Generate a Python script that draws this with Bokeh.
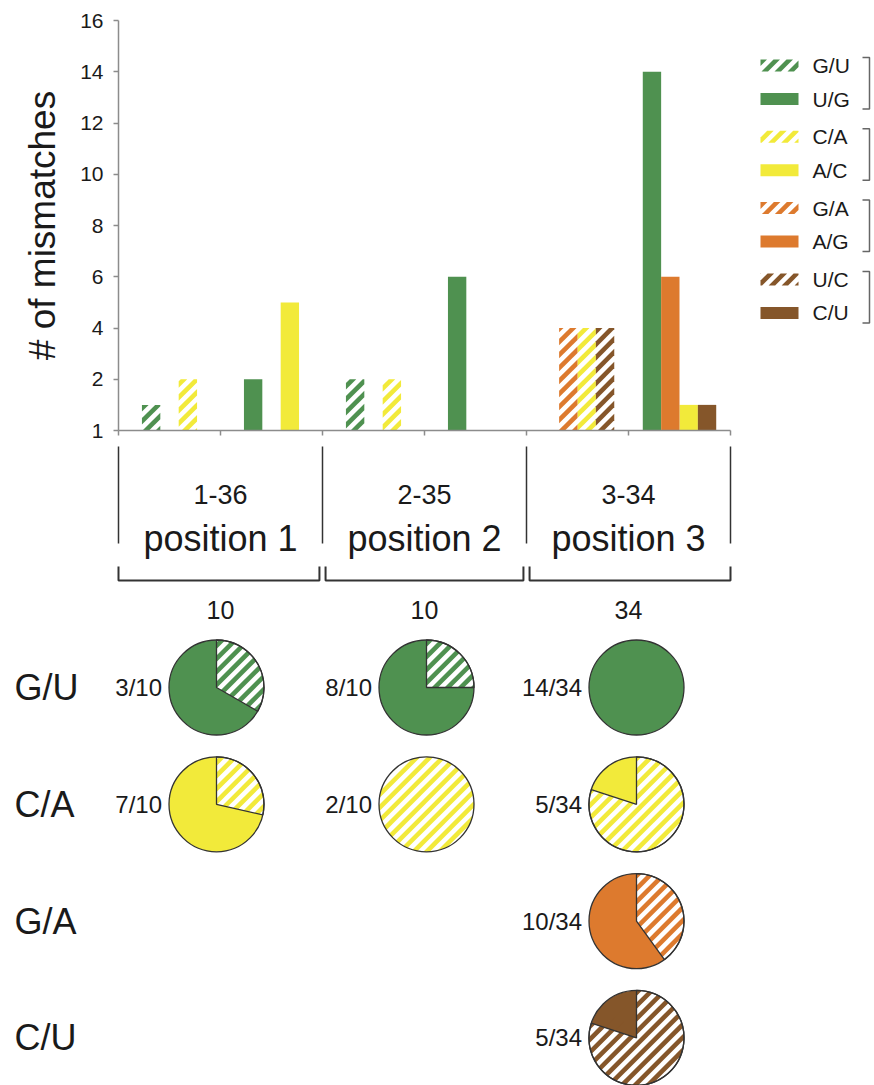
import math

from bokeh.core.properties import value
from bokeh.embed import file_html
from bokeh.layouts import column
from bokeh.models import ColumnDataSource, FixedTicker, LinearAxis, Range1d
from bokeh.plotting import figure
from bokeh.resources import INLINE

FONT = "Liberation Sans"
TEXT_COLOR = "#1a1a1a"
AXIS_COLOR = "#8c8c8c"
BRACKET_COLOR = "#333333"

# ---------------------------------------------------------------- data
position_ranges = ["1-36", "2-35", "3-34"]
position_names = ["position 1", "position 2", "position 3"]

# each mismatch pair: first member drawn hatched, second member drawn solid
pair_hatched = ["G/U", "C/A", "G/A", "U/C"]
pair_solid = ["U/G", "A/C", "A/G", "C/U"]
pair_colors = ["#4f9150", "#f2ea3a", "#dd7a2e", "#85562a"]
pie_row_labels = ["G/U", "C/A", "G/A", "C/U"]

# number of mismatches at position 1, 2, 3
gu = [1, 2, 0]
ug = [2, 6, 14]
ca = [2, 2, 4]
ac = [5, 0, 1]
ga = [0, 0, 4]
ag = [0, 0, 6]
uc = [0, 0, 4]
cu = [0, 0, 1]

y_ticks = [0, 2, 4, 6, 8, 10, 12, 14, 16]
y_tick_labels = ["1", "2", "4", "6", "8", "10", "12", "14", "16"]

counts_hatched = [gu, ca, ga, uc]
counts_solid = [ug, ac, ag, cu]
position_totals = [sum(c[g] for c in counts_hatched + counts_solid) for g in range(3)]

# ---------------------------------------------------------------- layout
W = 874
TOP_H = 628
PIE_H = 1085 - TOP_H

X0_PX = 118          # page x of the value axis
X_PX = 102           # pixels per bar slot
Y0_PX = 430          # page y of the category axis
Y_PX = 410 / 16      # pixels per mismatch


def dx(px):
    return (px - X0_PX) / X_PX


def dy(py):
    return (Y0_PX - py) / Y_PX


def px_x(x):
    return X0_PX + X_PX * x


def px_y(y):
    return Y0_PX - Y_PX * y


BAR_W = 0.18
# order of the pairs inside each cluster and spacing (in bar widths)
cluster_order = [[0, 1], [0, 1], [0, 2, 1, 3]]
cluster_step = [2.0, 2.0, 1.0]

STRIPE_PERIOD = 13.0   # horizontal distance between stripes, px
STRIPE_WIDTH = 6.5     # horizontal width of one stripe, px


# ---------------------------------------------------------------- stripe fill
def clip_halfplane(poly, a, b, c):
    """Keep the part of a polygon where a*x + b*y <= c."""
    out = []
    n = len(poly)
    for i in range(n):
        p, q = poly[i], poly[(i + 1) % n]
        fp = a * p[0] + b * p[1] - c
        fq = a * q[0] + b * q[1] - c
        if fp <= 0:
            out.append(p)
        if (fp < 0 < fq) or (fq < 0 < fp):
            t = fp / (fp - fq)
            out.append((p[0] + t * (q[0] - p[0]), p[1] + t * (q[1] - p[1])))
    return out


def stripes_in(poly):
    """45-degree '/' stripes (screen pixels, y down) clipped to a polygon."""
    s = [x + y for x, y in poly]
    k = math.floor(min(s) / STRIPE_PERIOD) - 1
    pieces = []
    while k * STRIPE_PERIOD < max(s):
        a0 = k * STRIPE_PERIOD
        piece = clip_halfplane(poly, -1, -1, -a0)
        piece = clip_halfplane(piece, 1, 1, a0 + STRIPE_WIDTH)
        if len(piece) >= 3:
            pieces.append(piece)
        k += 1
    return pieces


def rect_px(left, right, top_, bottom):
    return [(left, top_), (right, top_), (right, bottom), (left, bottom)]


# ---------------------------------------------------------------- bar chart
top = figure(
    width=W, height=TOP_H,
    x_range=Range1d(dx(0), dx(W)), y_range=Range1d(dy(TOP_H), dy(0)),
    x_axis_type=None, y_axis_type=None,
    toolbar_location=None, output_backend="svg",
    min_border=0, outline_line_color=None,
)
top.grid.visible = False

yax = LinearAxis(
    fixed_location=0, bounds=(0, 16),
    ticker=FixedTicker(ticks=y_ticks),
    major_label_overrides={t: lab for t, lab in zip(y_ticks, y_tick_labels)},
    axis_label="# of mismatches",
    axis_label_text_font=FONT, axis_label_text_font_size="37px",
    axis_label_text_font_style="normal", axis_label_text_color=TEXT_COLOR,
    axis_label_standoff=14,
    major_label_text_font=FONT, major_label_text_font_size="21px",
    major_label_text_color=TEXT_COLOR, major_label_standoff=10,
    axis_line_color=AXIS_COLOR, axis_line_width=1.5,
    major_tick_line_color=AXIS_COLOR, major_tick_line_width=1.5,
    major_tick_in=0, major_tick_out=5,
    minor_tick_line_color=None,
)
top.add_layout(yax, "left")

xax = LinearAxis(
    fixed_location=0, bounds=(0, 6),
    ticker=FixedTicker(ticks=list(range(7))),
    major_label_overrides={i: "" for i in range(7)},
    axis_line_color=AXIS_COLOR, axis_line_width=1.5,
    major_tick_line_color=AXIS_COLOR, major_tick_line_width=1.5,
    major_tick_in=0, major_tick_out=5,
    minor_tick_line_color=None,
)
top.add_layout(xax, "below")

top_stripes = {c: ([], []) for c in pair_colors}


def add_top_stripes(color, poly_px):
    xs, ys = top_stripes[color]
    for piece in stripes_in(poly_px):
        xs.append([dx(p[0]) for p in piece])
        ys.append([dy(p[1]) for p in piece])


for kind, counts in (("hatched", counts_hatched), ("solid", counts_solid)):
    for k in range(4):
        xs, tops = [], []
        for g in range(3):
            order = cluster_order[g]
            n = len(order)
            if k not in order:
                continue
            i = order.index(k)
            slot = 2 * g + (0 if kind == "hatched" else 1)
            v = counts[k][g]
            if v > 0:
                xs.append(slot + 0.5 + (i - (n - 1) / 2) * cluster_step[g] * BAR_W)
                tops.append(v)
        if not xs:
            continue
        src = ColumnDataSource(dict(x=xs, top=tops))
        if kind == "hatched":
            top.vbar(x="x", top="top", bottom=0, width=BAR_W, source=src,
                     fill_color="white", line_color=None)
            for xc, v in zip(xs, tops):
                add_top_stripes(pair_colors[k], rect_px(
                    px_x(xc - BAR_W / 2), px_x(xc + BAR_W / 2), px_y(v), px_y(0)))
        else:
            top.vbar(x="x", top="top", bottom=0, width=BAR_W, source=src,
                     fill_color=pair_colors[k], line_color=None)

# legend with a bracket joining each pair
for k in range(4):
    c1 = 65 + 71.3 * k
    c2 = c1 + 33.5
    for cy, lab, hatched in ((c1, pair_hatched[k], True), (c2, pair_solid[k], False)):
        if hatched:
            add_top_stripes(pair_colors[k], rect_px(760, 798, cy - 6, cy + 6))
        else:
            top.quad(left=dx(760), right=dx(798), top=dy(cy - 6), bottom=dy(cy + 6),
                     fill_color=pair_colors[k], line_color=None)
        top.text(x=[dx(812)], y=[dy(cy)], text=[lab], text_align="left",
                 text_baseline="middle", text_font=value(FONT),
                 text_font_size=value("21px"), text_color=TEXT_COLOR)
    top.multi_line(
        xs=[[dx(862), dx(869), dx(869), dx(862)]],
        ys=[[dy(c1 - 8), dy(c1 - 8), dy(c2 + 10), dy(c2 + 10)]],
        line_color="#666666", line_width=1.5,
    )

for color, (sx, sy) in top_stripes.items():
    if sx:
        top.patches(xs=sx, ys=sy, fill_color=color, line_color=None)

# position captions under the category axis
sep_x = [0, 2, 4, 6]
top.segment(x0=sep_x, x1=sep_x, y0=[dy(446)] * 4, y1=[dy(543)] * 4,
            line_color=BRACKET_COLOR, line_width=1.5)

centers = [2 * g + 1 for g in range(3)]
top.text(x=centers, y=[dy(494)] * 3, text=position_ranges, text_align="center",
         text_baseline="alphabetic", text_font=value(FONT),
         text_font_size=value("27px"), text_color=TEXT_COLOR)
top.text(x=centers, y=[dy(538)] * 3, text=position_names, text_align="center",
         text_baseline="alphabetic", text_font=value(FONT),
         text_font_size=value("36px"), text_color=TEXT_COLOR)

gap = 0.03
b_xs, b_ys = [], []
for g in range(3):
    left = 2 * g + (gap if g > 0 else 0)
    right = 2 * g + 2 - (gap if g < 2 else 0)
    b_xs.append([left, left, right, right])
    b_ys.append([dy(566), dy(580), dy(580), dy(566)])
top.multi_line(xs=b_xs, ys=b_ys, line_color=BRACKET_COLOR, line_width=2)

top.text(x=centers, y=[dy(609)] * 3, text=[str(t) for t in position_totals],
         text_align="center", text_baseline="alphabetic", text_font=value(FONT),
         text_font_size=value("25px"), text_color=TEXT_COLOR)

# ---------------------------------------------------------------- pies
PIE_X0 = 216          # page x of the first pie column
PIE_DX = 210          # column pitch, px
PIE_Y0 = 687          # page y of the first pie row
PIE_DY = 116.8        # row pitch, px
PIE_R = 47.5
ARC_STEPS = 96

pie = figure(
    width=W, height=PIE_H,
    x_range=Range1d(-PIE_X0 / PIE_DX, (W - PIE_X0) / PIE_DX),
    y_range=Range1d(-(TOP_H + PIE_H - PIE_Y0) / PIE_DY, (PIE_Y0 - TOP_H) / PIE_DY),
    x_axis_type=None, y_axis_type=None,
    toolbar_location=None, output_backend="svg",
    min_border=0, outline_line_color=None,
)
pie.grid.visible = False

pie_stripes = {c: ([], []) for c in pair_colors}


def wedge_px(cx, cy, frac):
    """Sector starting at 12 o'clock and running clockwise, page pixels."""
    steps = max(2, int(math.ceil(ARC_STEPS * frac)))
    arc = []
    for j in range(steps + 1):
        phi = 2 * math.pi * frac * j / steps
        arc.append((cx + PIE_R * math.sin(phi), cy - PIE_R * math.cos(phi)))
    if frac >= 1:
        return arc[:-1]
    return [(cx, cy)] + arc


for r in range(4):
    pie.text(x=[(14 - PIE_X0) / PIE_DX], y=[-r], text=[pie_row_labels[r]],
             text_align="left", text_baseline="middle", text_font=value(FONT),
             text_font_size=value("36px"), text_color=TEXT_COLOR)
    for g in range(3):
        h = counts_hatched[r][g]
        s = counts_solid[r][g]
        n = h + s
        if n == 0:
            continue
        color = pair_colors[r]
        frac = h / n
        pie.circle(x=[g], y=[-r], radius=PIE_R, radius_units="screen",
                   fill_color=color if s > 0 else "white", line_color=None)
        if h > 0:
            if h < n:
                pie.wedge(x=[g], y=[-r], radius=PIE_R, radius_units="screen",
                          start_angle=math.pi / 2,
                          end_angle=math.pi / 2 - 2 * math.pi * frac,
                          direction="clock", fill_color="white", line_color=None)
            cx, cy = PIE_X0 + PIE_DX * g, PIE_Y0 + PIE_DY * r
            sx, sy = pie_stripes[color]
            for piece in stripes_in(wedge_px(cx, cy, frac)):
                sx.append([(p[0] - PIE_X0) / PIE_DX for p in piece])
                sy.append([-(p[1] - PIE_Y0) / PIE_DY for p in piece])
        pie.text(x=[g], y=[-r], text=[f"{n}/{position_totals[g]}"],
                 x_offset=-(PIE_R + 7), text_align="right", text_baseline="middle",
                 text_font=value(FONT), text_font_size=value("24px"),
                 text_color=TEXT_COLOR)

for color, (sx, sy) in pie_stripes.items():
    if sx:
        pie.patches(xs=sx, ys=sy, fill_color=color, line_color=None)

# outlines on top of the stripes
for r in range(4):
    for g in range(3):
        h = counts_hatched[r][g]
        n = h + counts_solid[r][g]
        if n == 0:
            continue
        pie.circle(x=[g], y=[-r], radius=PIE_R, radius_units="screen",
                   fill_color=None, line_color=BRACKET_COLOR, line_width=1.3)
        if 0 < h < n:
            pie.wedge(x=[g], y=[-r], radius=PIE_R, radius_units="screen",
                      start_angle=math.pi / 2,
                      end_angle=math.pi / 2 - 2 * math.pi * h / n,
                      direction="clock", fill_color=None,
                      line_color=BRACKET_COLOR, line_width=1.3)

layout = column(top, pie, spacing=0)
open("out.html", "w").write(file_html(layout, INLINE))
